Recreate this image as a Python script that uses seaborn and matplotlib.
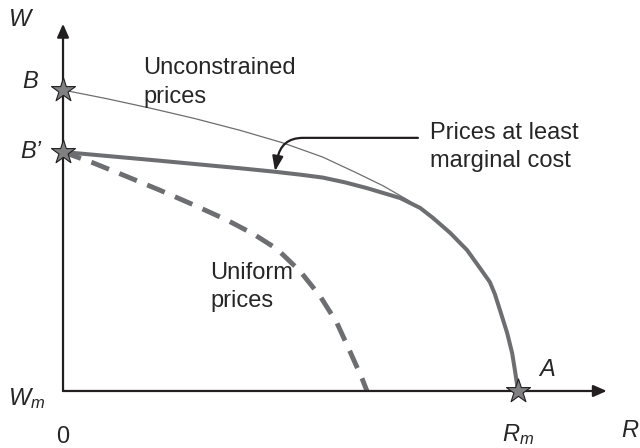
import numpy as np
import pandas as pd
import matplotlib.pyplot as plt
import seaborn as sns

# Curve points (R on x, W on y; R_m = 10, B = 10)
unc_r = [0.0, 0.95, 1.91, 2.90, 3.89, 4.84, 5.71, 6.46, 7.03, 7.56, 7.85, 8.13, 8.51, 8.88, 9.16,
         9.38, 9.49, 9.60, 9.76, 9.87, 9.93, 10.0]
unc_w = [10.0, 9.715, 9.40, 9.05, 8.66, 8.24, 7.77, 7.24, 6.82, 6.36, 6.08, 5.75, 5.25, 4.68, 4.09,
         3.62, 3.22, 2.70, 1.93, 1.26, 0.70, 0.0]

mc_r = [0.0, 1.03, 2.13, 3.89, 4.62, 5.20, 5.71, 6.20, 6.68, 7.41, 7.85, 8.13, 8.51, 8.88, 9.16,
        9.38, 9.49, 9.60, 9.76, 9.87, 9.93, 10.0]
mc_w = [7.94, 7.80, 7.65, 7.40, 7.29, 7.19, 7.09, 6.93, 6.74, 6.41, 6.08, 5.75, 5.25, 4.68, 4.09,
        3.62, 3.22, 2.70, 1.93, 1.26, 0.70, 0.0]

uni_r = [0.0, 0.66, 1.41, 2.13, 2.86, 3.60, 4.18, 4.70, 5.21, 5.65, 6.02, 6.31, 6.57, 6.68]
uni_w = [7.94, 7.58, 7.12, 6.67, 6.19, 5.68, 5.22, 4.72, 3.98, 3.15, 2.26, 1.30, 0.42, 0.0]

star_r = [0.0, 0.0, 10.0]
star_w = [10.0, 7.94, 0.0]

sns.set_style('white')
plt.rcParams['font.family'] = ['Liberation Sans', 'DejaVu Sans']
plt.rcParams['mathtext.fontset'] = 'custom'
plt.rcParams['mathtext.it'] = 'Liberation Sans:italic'
plt.rcParams['mathtext.rm'] = 'Liberation Sans'

fig = plt.figure(figsize=(6.4, 4.48), dpi=100)
ax = fig.add_axes([0, 0, 1, 1])
ax.set_xlim(-1.385, 12.68)
ax.set_ylim(-1.894, 12.99)
ax.axis('off')

gray = '#6d6e71'
ink = '#231f20'

# axes with arrows
ax.annotate('', xy=(0, 12.2), xytext=(0, 0),
            arrowprops=dict(arrowstyle='-|>,head_length=0.5,head_width=0.22', lw=1.6, color=ink,
                            shrinkA=0, shrinkB=0, mutation_scale=16))
ax.annotate('', xy=(11.95, 0), xytext=(0, 0),
            arrowprops=dict(arrowstyle='-|>,head_length=0.5,head_width=0.22', lw=1.6, color=ink,
                            shrinkA=0, shrinkB=0, mutation_scale=16))

sns.lineplot(x=unc_r, y=unc_w, sort=False, color=gray, lw=0.9, ax=ax)
sns.lineplot(x=mc_r, y=mc_w, sort=False, color=gray, lw=2.9, ax=ax, solid_joinstyle='round')
sns.lineplot(x=uni_r, y=uni_w, sort=False, color=gray, lw=3.5, ax=ax,
             linestyle=(0, (3.9, 2.3)))

sns.scatterplot(x=star_r, y=star_w, marker='*', s=330, color='#808083',
                edgecolor=ink, linewidth=0.8, ax=ax, zorder=5)

fs = 17
ax.text(1.76, 11.1, 'Unconstrained\nprices', fontsize=fs, va='top', ha='left', linespacing=1.4)
ax.text(8.07, 8.95, 'Prices at least\nmarginal cost', fontsize=fs, va='top', ha='left', linespacing=1.4)
ax.text(3.23, 4.3, 'Uniform\nprices', fontsize=fs, va='top', ha='left', linespacing=1.4)

ax.annotate('', xy=(4.66, 7.30), xytext=(7.8, 8.41),
            arrowprops=dict(arrowstyle='-|>,head_length=0.55,head_width=0.2', lw=1.6, color=ink,
                            shrinkA=0, shrinkB=0, mutation_scale=16,
                            connectionstyle='angle,angleA=0,angleB=80,rad=22'))

ax.text(-0.945, 12.33, 'W', fontsize=fs, style='italic', ha='center', va='center')
ax.text(-0.725, 10.27, 'B', fontsize=fs, style='italic', ha='center', va='center')
ax.text(-0.70, 7.97, 'B\u2019', fontsize=fs, style='italic', ha='center', va='center')
ax.text(-0.80, -0.25, '$W_m$', fontsize=fs, ha='center', va='center')
ax.text(0.0, -1.53, '0', fontsize=fs, ha='center', va='center')
ax.text(10.0, -1.45, '$R_m$', fontsize=fs, ha='center', va='center')
ax.text(12.46, -1.3, 'R', fontsize=fs, style='italic', ha='center', va='center')
ax.text(10.64, 0.7, 'A', fontsize=fs, style='italic', ha='center', va='center')

plt.savefig('out.png', dpi=100)
